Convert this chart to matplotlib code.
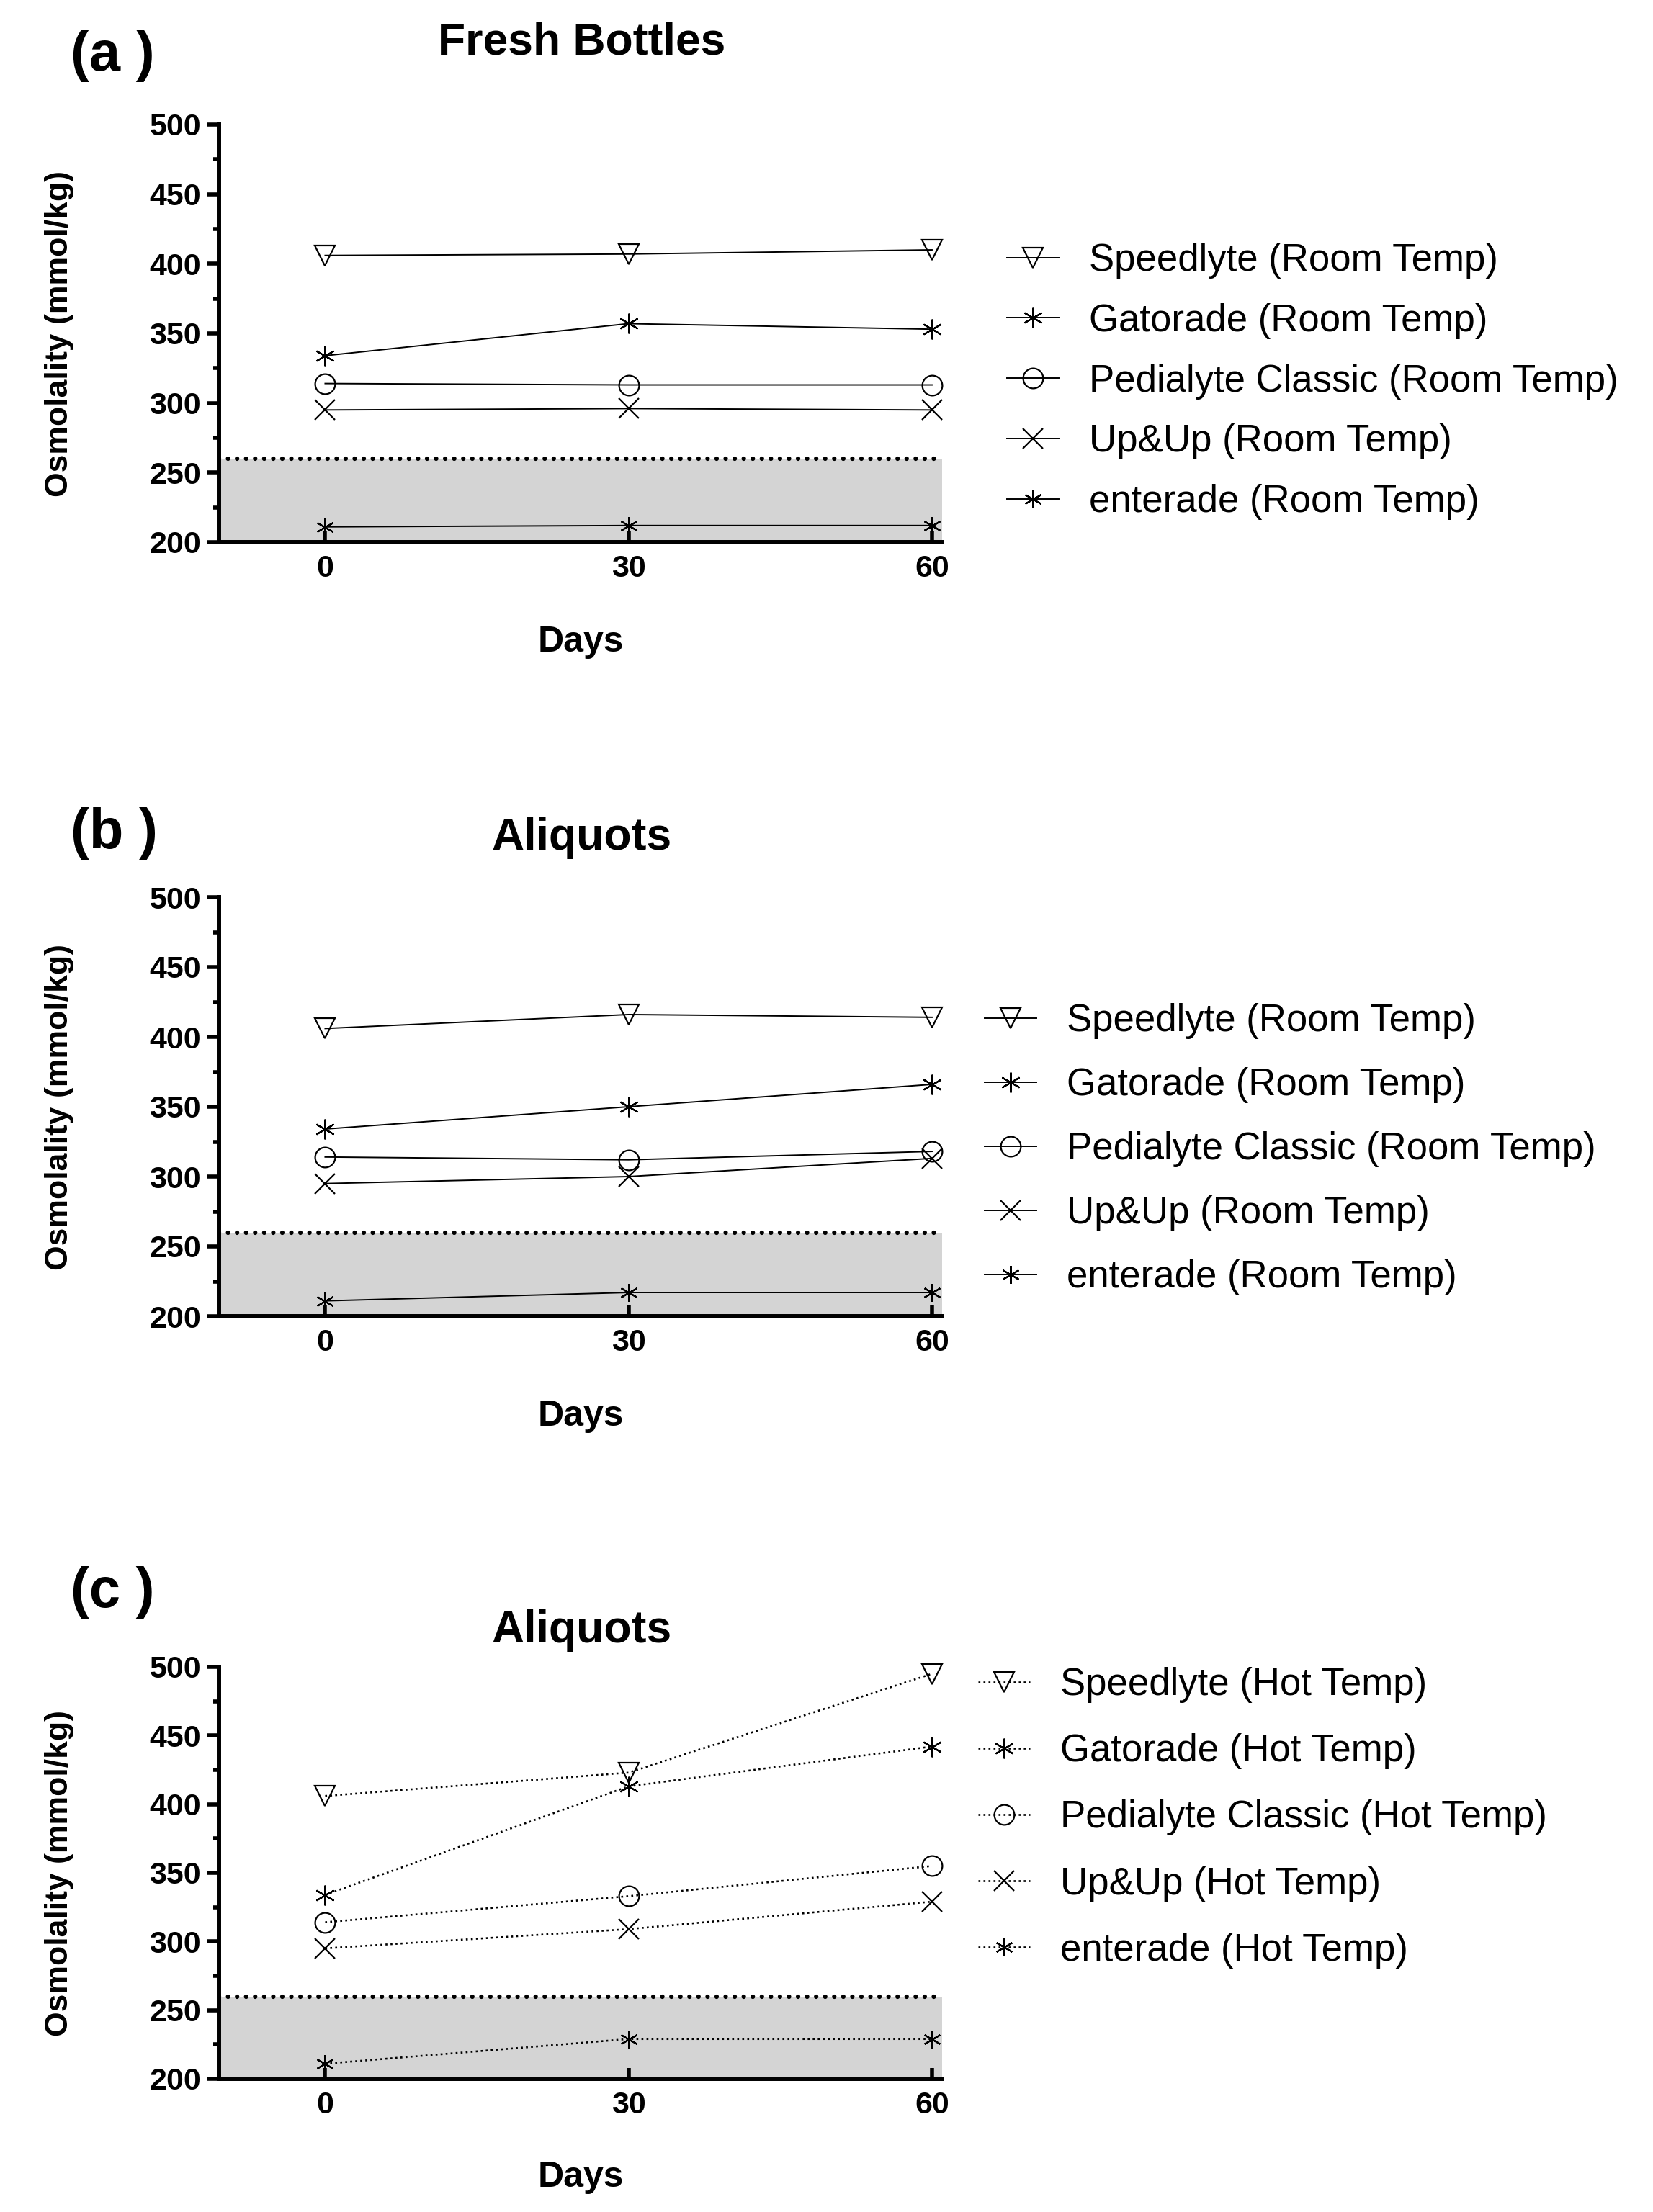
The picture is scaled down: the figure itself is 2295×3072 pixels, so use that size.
import matplotlib
matplotlib.use("Agg")
import matplotlib.pyplot as plt
from matplotlib.ticker import MultipleLocator

plt.rcParams['font.family'] = ['Liberation Sans', 'Arial', 'DejaVu Sans']

days = [0, 30, 60]
threshold = 260

# (a) fresh bottles, room temp
speedlyte_a = [406, 407, 410]
gatorade_a = [334, 357, 353]
pedialyte_a = [314, 313, 313]
upup_a = [295, 296, 295]
enterade_a = [211, 212, 212]

# (b) aliquots, room temp
speedlyte_b = [406, 416, 414]
gatorade_b = [334, 350, 366]
pedialyte_b = [314, 312, 318]
upup_b = [295, 300, 313]
enterade_b = [211, 217, 217]

# (c) aliquots, hot temp
speedlyte_c = [406, 423, 495]
gatorade_c = [334, 413, 442]
pedialyte_c = [314, 333, 355]
upup_c = [295, 309, 329]
enterade_c = [211, 229, 229]

names = ["Speedlyte", "Gatorade", "Pedialyte Classic", "Up&Up", "enterade"]
markers = ['v', (6, 2, 0), 'o', 'x', (6, 2, 0)]
msizes = [20, 20, 20, 20, 18]

W, H = 2295, 3072
fig = plt.figure(figsize=(W / 100, H / 100), dpi=100)


def rect(left, right, top, bottom):
    return [left / W, 1 - bottom / H, (right - left) / W, (bottom - top) / H]


def panel(box, series, temp, ls, lw, letter, title, letter_y, title_y,
          leg_x, leg_y, spacing):
    ax = fig.add_axes(box)
    ax.axhspan(200, threshold, color='#d4d4d4', lw=0, zorder=0)
    ax.axhline(threshold, color='black', lw=4.5, ls=(0, (0.01, 2.0)),
               dash_capstyle='round', zorder=1)
    for name, vals, m, ms in zip(names, series, markers, msizes):
        ax.plot(days, vals, ls=ls, color='black', lw=lw, marker=m,
                markersize=ms, markerfacecolor='none', markeredgecolor='black',
                markeredgewidth=1.6, label=f"{name} ({temp} Temp)", zorder=3,
                clip_on=False)
    ax.set_xlim(-10.5, 61)
    ax.set_ylim(200, 500)
    ax.set_xticks(days)
    ax.yaxis.set_major_locator(MultipleLocator(50))
    ax.yaxis.set_minor_locator(MultipleLocator(25))
    for s in ['top', 'right']:
        ax.spines[s].set_visible(False)
    ax.spines['left'].set_linewidth(4.3)
    ax.spines['bottom'].set_linewidth(4.3)
    ax.tick_params(axis='y', which='major', direction='out', length=12, width=4,
                   labelsize=31, pad=6)
    ax.tick_params(axis='y', which='minor', direction='out', length=6, width=4)
    ax.tick_params(axis='x', which='major', direction='in', length=11, width=4,
                   labelsize=31, pad=12)
    for lab in ax.get_xticklabels() + ax.get_yticklabels():
        lab.set_fontweight('bold')
    ax.set_xlabel('Days', fontsize=36, fontweight='bold')
    ax.xaxis.set_label_coords(0.5, -0.2)
    ax.set_ylabel('Osmolality (mmol/kg)', fontsize=32, fontweight='bold')
    ax.yaxis.set_label_coords(-0.2, 0.5)
    fig.text(98 / W, 1 - letter_y / H, letter, fontsize=56, fontweight='bold',
             ha='left', va='center')
    fig.text(808 / W, 1 - title_y / H, title, fontsize=45, fontweight='bold',
             ha='center', va='center')
    ax.legend(loc='upper left', bbox_to_anchor=(leg_x / W, 1 - leg_y / H),
              bbox_transform=fig.transFigure, frameon=False, fontsize=38,
              handlelength=1.36, handletextpad=0.8, labelspacing=spacing,
              borderpad=0, borderaxespad=0, markerscale=1.0)
    return ax


panel(rect(304, 1308, 173, 753),
      [speedlyte_a, gatorade_a, pedialyte_a, upup_a, enterade_a],
      'Room', '-', 1.4, '(a )', 'Fresh Bottles', 78, 59, 1398, 337, 0.64)
panel(rect(304, 1308, 1246, 1828),
      [speedlyte_b, gatorade_b, pedialyte_b, upup_b, enterade_b],
      'Room', '-', 1.4, '(b )', 'Aliquots', 1157, 1163, 1367, 1393, 0.74)
panel(rect(304, 1308, 2315, 2887),
      [speedlyte_c, gatorade_c, pedialyte_c, upup_c, enterade_c],
      'Hot', ':', 1.9, '(c )', 'Aliquots', 2211, 2265, 1358, 2315, 0.8)

fig.savefig('out.png', dpi=100)
